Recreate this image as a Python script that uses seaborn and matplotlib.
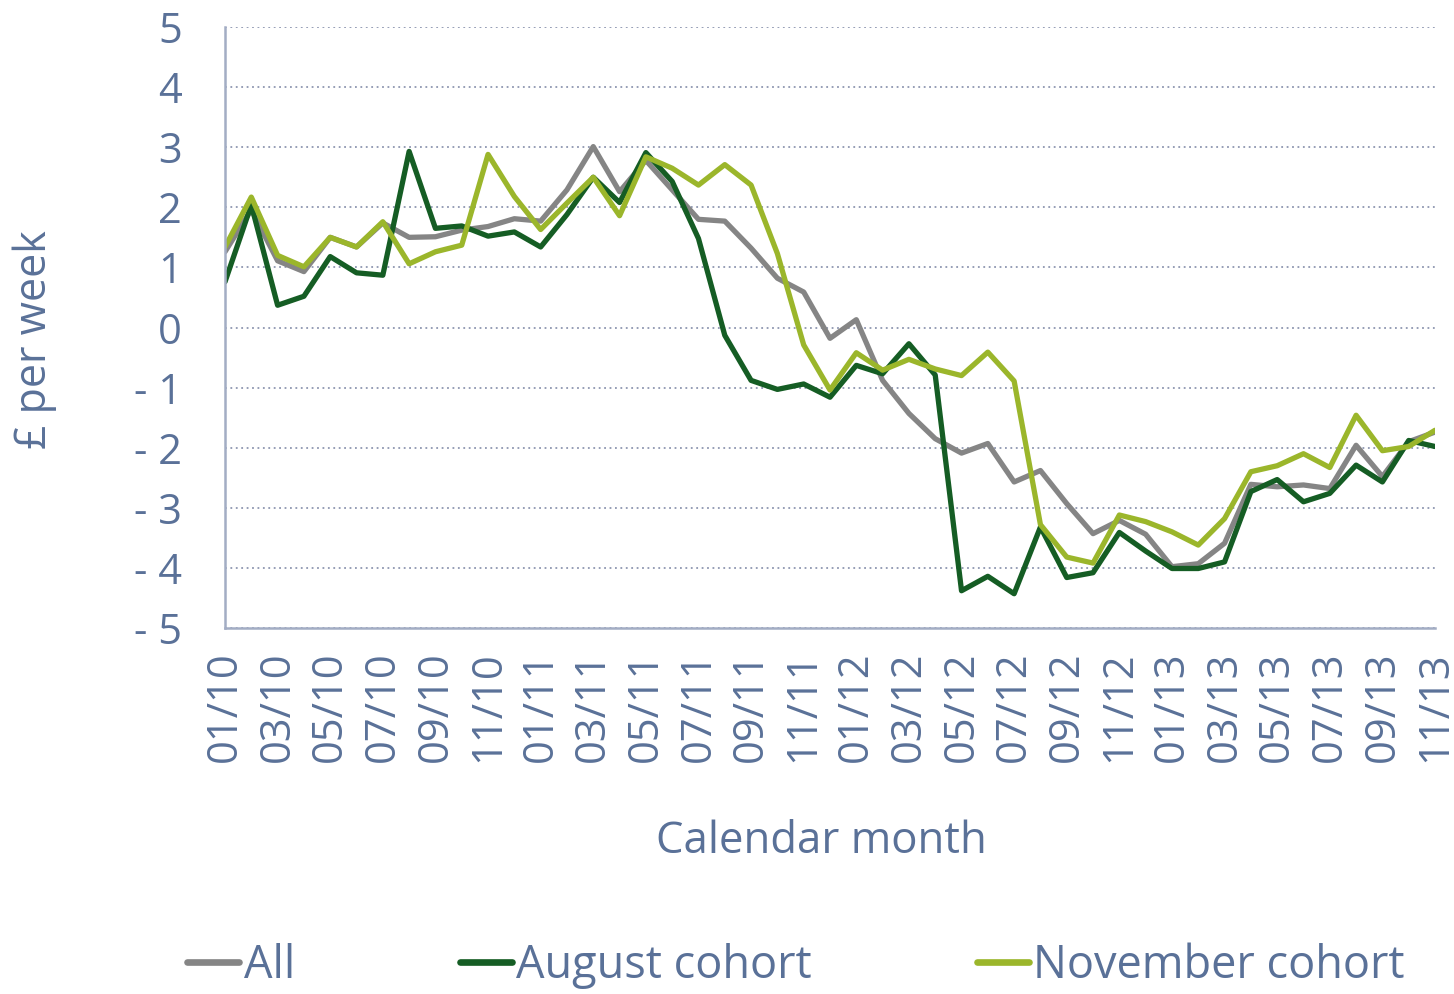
import pandas as pd
import matplotlib
matplotlib.use("Agg")
import matplotlib.pyplot as plt
import seaborn as sns

# months on the x axis (01/10 .. 11/13)
months = [
    "01/10", "02/10", "03/10", "04/10", "05/10", "06/10", "07/10", "08/10", "09/10", "10/10", "11/10", "12/10",
    "01/11", "02/11", "03/11", "04/11", "05/11", "06/11", "07/11", "08/11", "09/11", "10/11", "11/11", "12/11",
    "01/12", "02/12", "03/12", "04/12", "05/12", "06/12", "07/12", "08/12", "09/12", "10/12", "11/12", "12/12",
    "01/13", "02/13", "03/13", "04/13", "05/13", "06/13", "07/13", "08/13", "09/13", "10/13", "11/13",
]

all_vals = [
    1.26, 1.96, 1.11, 0.93, 1.50, 1.34, 1.74, 1.50, 1.51, 1.62, 1.68, 1.81,
    1.77, 2.29, 3.01, 2.26, 2.78, 2.29, 1.80, 1.77, 1.32, 0.82, 0.59, -0.18,
    0.13, -0.88, -1.43, -1.85, -2.09, -1.93, -2.57, -2.38, -2.93, -3.43, -3.21, -3.44,
    -3.98, -3.93, -3.59, -2.61, -2.65, -2.62, -2.68, -1.96, -2.48, -1.90, -1.74,
]

august_vals = [
    0.76, 2.04, 0.37, 0.52, 1.18, 0.91, 0.87, 2.93, 1.65, 1.69, 1.52, 1.59,
    1.34, 1.88, 2.50, 2.08, 2.91, 2.43, 1.48, -0.13, -0.88, -1.03, -0.94, -1.16,
    -0.63, -0.77, -0.27, -0.79, -4.38, -4.14, -4.43, -3.32, -4.16, -4.08, -3.41, -3.72,
    -4.01, -4.01, -3.90, -2.73, -2.53, -2.90, -2.76, -2.29, -2.57, -1.88, -1.98,
]

november_vals = [
    1.34, 2.17, 1.20, 1.01, 1.50, 1.34, 1.76, 1.06, 1.26, 1.37, 2.88, 2.18,
    1.63, 2.07, 2.50, 1.86, 2.84, 2.65, 2.37, 2.71, 2.37, 1.23, -0.29, -1.04,
    -0.42, -0.71, -0.53, -0.69, -0.80, -0.41, -0.89, -3.28, -3.82, -3.92, -3.12, -3.23,
    -3.40, -3.62, -3.18, -2.40, -2.30, -2.10, -2.33, -1.46, -2.05, -1.98, -1.71,
]

series_names = ["All", "August cohort", "November cohort"]
y_ticks = [5, 4, 3, 2, 1, 0, -1, -2, -3, -4, -5]

df = pd.DataFrame({
    "month": months * 3,
    "value": all_vals + august_vals + november_vals,
    "series": [s for s in series_names for _ in months],
})

sns.set_theme(style="white")
plt.rcParams["font.family"] = ["Open Sans", "DejaVu Sans"]
plt.rcParams["axes.unicode_minus"] = False

text_col = "#5a7198"
axis_col = "#a3adc4"
grid_col = "#8e96b0"
palette = {"All": "#858585", "August cohort": "#155d24", "November cohort": "#9bb62b"}

fig = plt.figure(figsize=(14.54, 9.94), dpi=100)
ax = fig.add_axes([225 / 1454, 1 - 628 / 994, 1210 / 1454, 601 / 994])

sns.lineplot(data=df, x="month", y="value", hue="series", hue_order=series_names,
             palette=palette, linewidth=3.8, sort=False, ax=ax, legend=False)

ax.set_xlim(0, len(months) - 1)
ax.set_ylim(-5, 5)
ax.set_yticks(y_ticks)
ax.set_yticklabels([str(v).replace("-", "- ") for v in y_ticks])
ax.set_xticks(range(0, len(months), 2))
ax.set_xticklabels(months[::2], rotation=90)

ax.yaxis.grid(True, linestyle=(0, (1, 2)), color=grid_col, linewidth=1.3)
ax.xaxis.grid(False)
for s in ["top", "right"]:
    ax.spines[s].set_visible(False)
for s in ["left", "bottom"]:
    ax.spines[s].set_color(axis_col)
    ax.spines[s].set_linewidth(1.8)
ax.tick_params(axis="both", direction="out", length=9, width=1.8, color=axis_col,
               labelcolor=text_col, labelsize=30, pad=8)
ax.tick_params(axis="y", pad=22)
ax.set_xlabel("")
ax.set_ylabel("")

fig.text(35 / 1454, 1 - 340 / 994, "£ per week", rotation=90, ha="center", va="center",
         fontsize=31, color=text_col)
fig.text(821 / 1454, 1 - 842 / 994, "Calendar month", ha="center", va="center",
         fontsize=31.5, color=text_col)

handles = [plt.Line2D([], [], color=palette[n], linewidth=4.8) for n in series_names]
leg = fig.legend(handles, series_names, loc="center", bbox_to_anchor=(796 / 1454, 1 - 966 / 994),
                 ncol=3, frameon=False, fontsize=32.5, handlelength=1.15, handletextpad=0.1,
                 columnspacing=3.65)
for t in leg.get_texts():
    t.set_color(text_col)

fig.savefig("out.png", dpi=100)
